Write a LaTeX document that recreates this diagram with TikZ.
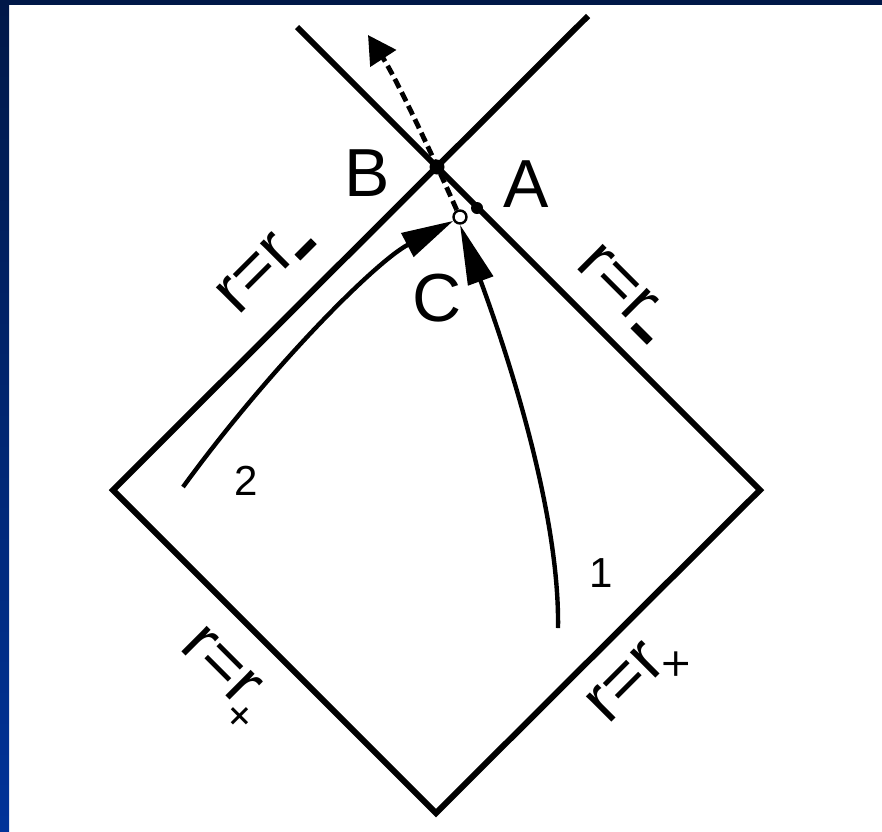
\documentclass[tikz,border=0pt]{standalone}
\usepackage{fontspec}
\setmainfont{Liberation Sans}
\usetikzlibrary{arrows.meta}
\definecolor{navy}{RGB}{0,24,72}
\definecolor{slideblue}{RGB}{0,51,153}
\newcommand{\rrminus}{r=r\kern-0.02em\raisebox{-0.06em}{\rule{0.34em}{0.12em}}}
\newcommand{\rrplus}[1]{r=r\kern-0.10em\raisebox{-0.28em}{\fontsize{22}{22}\selectfont #1}}
\tikzset{
  frame/.style={line width=3pt, line cap=butt, line join=miter},
  world/.style={line width=2.2pt},
  dashline/.style={line width=2.4pt, dash pattern=on 5pt off 2.5pt},
  bigletter/.style={inner sep=0pt, font=\fontsize{34}{34}\selectfont},
  numlabel/.style={inner sep=0pt, font=\fontsize{21}{21}\selectfont},
  radlabel/.style={inner sep=0pt, anchor=base west, font=\fontsize{34}{34}\selectfont},
  fulldot/.style={circle, fill=black, inner sep=0pt, minimum size=#1},
  opendot/.style={circle, draw=black, fill=white, line width=1.2pt, inner sep=0pt, minimum size=6.5pt}
}
\begin{document}
\begin{tikzpicture}[x=0.5pt, y=-0.5pt]
\useasboundingbox (0,0) rectangle (882,831);
\fill[white] (0,0) rectangle (882,831);
\shade[top color=navy, bottom color=slideblue] (0,0) rectangle (9,831);
\fill[navy] (0,0) rectangle (882,5);

% Penrose diagram frame
\coordinate (ULend) at (297,27);
\coordinate (UReend) at (588,16);
\coordinate (R) at (760,490);
\coordinate (Bot) at (436,813);
\coordinate (L) at (113,490);
\draw[frame] (ULend) -- (R) -- (Bot) -- (L) -- (UReend);

% points
\node[fulldot=7.5pt] (Bdot) at (437,167) {};
\node[fulldot=6pt] (Adot) at (477,208) {};
\node[opendot] (Cdot) at (460,217) {};

% world lines
\coordinate (s1) at (558,628);
\coordinate (s2) at (183,487);
\coordinate (tipD) at (368,35);
\draw[world, -{Triangle[length=30pt,width=13pt]}] (s1) .. controls (560,500) and (495,320) .. (Cdot.south);
\draw[world, -{Triangle[length=26pt,width=13pt]}] (s2) .. controls (268,370) and (375,262) .. (Cdot.210);
\draw[dashline, -{Triangle[length=14pt,width=15pt]}] (Cdot.115) .. controls (440,172) and (398,81) .. (tipD);

% letters
\node[bigletter] (lB) at (367,173) {B};
\node[bigletter] (lA) at (526,184) {A};
\node[bigletter] (lC) at (437,298) {C};
\node[numlabel] (n1) at (601,573) {1};
\node[numlabel] (n2) at (246,481) {2};

% horizon labels
\node[radlabel, rotate=45] (lul) at (238,317) {\rrminus};
\node[radlabel, rotate=-45] (lur) at (574,266) {\rrminus};
\node[radlabel, rotate=-45] (lbl) at (178,648) {\rrplus{+}};
\node[radlabel, rotate=45] (lbr) at (608,726) {\rrplus{×}};
\end{tikzpicture}
\end{document}
